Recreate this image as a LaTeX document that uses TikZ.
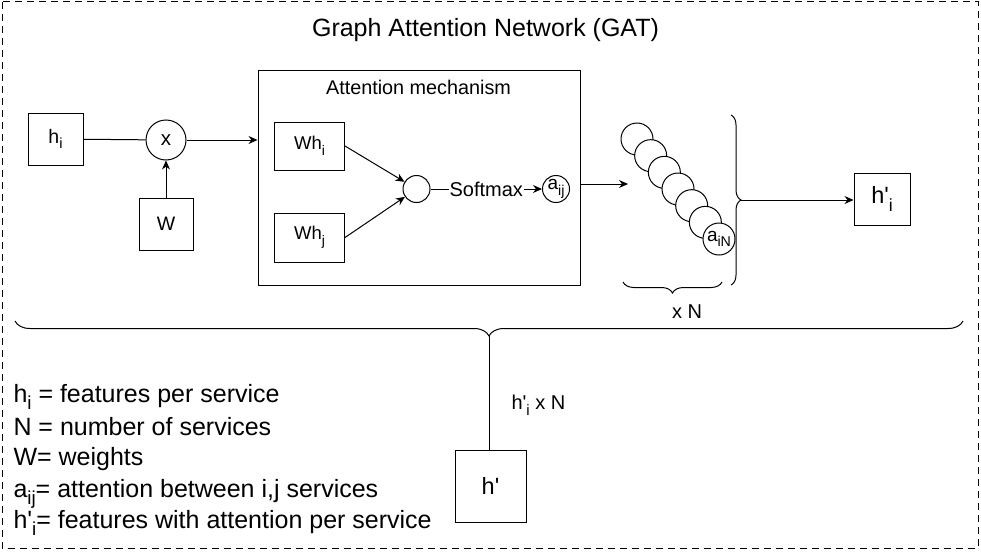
\documentclass[tikz,border=0pt]{standalone}
\usepackage{fontspec}
\usepackage{graphicx}
\setmainfont{Liberation Sans}
\usetikzlibrary{arrows.meta,decorations.pathreplacing}
\newcommand\myfs[1]{\fontsize{#1}{#1}\selectfont}
\newcommand\pq{\textquotesingle}
\newcommand\sbs[1]{\raisebox{-0.3em}{\scalebox{0.75}{#1}}}
\begin{document}
\begin{tikzpicture}[x=1pt,y=-1pt,line width=1pt,
  box/.style={draw, inner sep=0pt, font=\myfs{19.5}},
  circ/.style={draw, circle, inner sep=0pt, fill=white},
  arr/.style={-{Stealth[length=9pt,width=8pt]}},
  brc/.style={decorate, decoration={brace, amplitude=#1}},
  lbl/.style={inner sep=0pt, font=\myfs{20}},
  leg/.style={inner sep=0pt, anchor=base west, font=\myfs{25}}]
\useasboundingbox (0,0) rectangle (981,551);
% outer dashed frame
\draw[dash pattern=on 7pt off 5pt] (2,2) rectangle (978,548);
\node[inner sep=0pt, font=\myfs{25}] (title) at (485.5,30) {Graph Attention Network (GAT)};

% input part
\node[box, minimum width=55pt, minimum height=52pt] (hi) at (55.5,139) {h\sbs{i}};
\node[circ, minimum size=40pt, font=\myfs{20.5}] (mul) at (166,140) {x};
\node[box, minimum width=54pt, minimum height=52pt] (W) at (166,224) {W};

% attention mechanism
\node[draw, inner sep=0pt, minimum width=322pt, minimum height=215pt] (att) at (419,177.5) {};
\node[lbl, font=\myfs{19.8}] (atttitle) at (418.5,87) {Attention mechanism};
\node[box, font=\myfs{18.5}, minimum width=70pt, minimum height=48pt] (whi) at (309.5,146) {Wh\sbs{i}};
\node[box, font=\myfs{18.5}, minimum width=70pt, minimum height=49pt] (whj) at (309.5,237.5) {Wh\sbs{j}};
\node[circ, minimum size=27pt] (sc) at (416.5,189) {};
\node[circ, minimum size=27pt, font=\myfs{19}] (aij) at (556,189) {a\sbs{ij}};

% connectors
\draw (hi) -- (mul);
\draw[arr] (mul) -- (att.west |- mul);
\draw[arr] (W) -- (mul);
\draw[arr] (whi.east) -- (sc);
\draw[arr] (whj.east) -- (sc);
\draw[arr] (sc) -- node[lbl, fill=white, inner xsep=1pt] (smx) {Softmax} (aij);

% stack of attention circles
\coordinate (stackin) at (628,184);
\draw[arr] (att.east |- stackin) -- (stackin);
\foreach \k in {0,...,5} {
  \node[circ, minimum size=32pt] (c\k) at ({637+13.67*\k},{139+16.67*\k}) {};
}
\node[circ, minimum size=32pt, font=\myfs{19}] (c6) at (719,239) {a\sbs{iN}};

% braces
\draw[brc=10pt] (731,115) -- (731,285);
\coordinate (rbtip) at (741,200);
\draw[brc=11pt] (722,282) -- (623,282);
\node[lbl] (xn) at (687,312) {x N};

\node[box, font=\myfs{23.5}, minimum width=56pt, minimum height=52pt] (hpi) at (882,199) {h\pq\sbs{i}};
\draw[arr] (rbtip) -- (hpi.west |- rbtip);

\draw[brc=15pt] (963,321) -- (15,321);
\coordinate (bbtip) at (489,336);
\node[box, font=\myfs{23.5}, minimum width=71pt, minimum height=72pt] (hp) at (490.5,486) {h\pq};
\draw (bbtip) -- (bbtip |- hp.north);
\node[lbl, anchor=west] (hpn) at (511,405) {h\pq\sbs{i} x N};

% legend
\node[leg] (l1) at (13,402) {h\sbs{i} = features per service};
\node[leg] (l2) at (13,435) {N = number of services};
\node[leg] (l3) at (13,465) {W= weights};
\node[leg] (l4) at (13,497) {a\sbs{ij}= attention between i,j services};
\node[leg] (l5) at (13,528) {h\pq\sbs{i}= features with attention per service};
\end{tikzpicture}
\end{document}
